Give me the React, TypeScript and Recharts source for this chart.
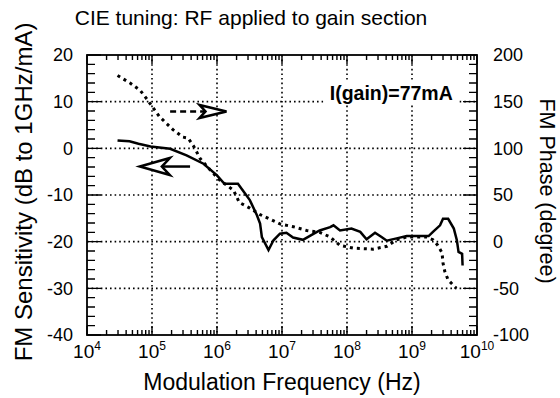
import React from 'react';
import { LineChart, Line, XAxis, YAxis, ReferenceLine, ReferenceDot } from 'recharts';

// ---------- data ----------
const sensFreq = [
  2.95e4, 4.5e4, 6.2e4, 9.5e4, 1.9e5, 3.4e5, 6.2e5, 1.0e6, 1.3e6, 2.1e6, 2.7e6, 3.2e6,
  4.1e6, 4.6e6, 4.9e6, 6.2e6, 7.4e6, 9.3e6, 1.17e7, 1.48e7, 2.1e7, 3.0e7, 3.8e7, 5.5e7,
  6.2e7, 7.8e7, 1.17e8, 1.6e8, 2.0e8, 2.7e8, 3.4e8, 4.1e8, 5.8e8, 8.3e8, 1.8e9, 2.1e9,
  2.7e9, 3.0e9, 3.6e9, 4.4e9, 4.9e9, 5.2e9, 5.9e9, 6.0e9,
];
const sensDb = [
  1.7, 1.5, 1.0, 0.4, -0.1, -1.5, -3.3, -5.8, -7.6, -7.6, -9.7, -11.1,
  -14.3, -16.1, -19.0, -21.8, -19.7, -18.3, -18.1, -19.1, -19.6, -18.4, -17.6, -16.9,
  -16.5, -17.6, -17.2, -17.9, -19.5, -18.1, -19.0, -19.8, -19.3, -18.8, -18.8, -17.9,
  -16.5, -15.1, -15.1, -17.2, -19.7, -22.2, -22.6, -25.1,
];

const phaseFreq = [
  2.95e4, 4.6e4, 6.6e4, 8.5e4, 1.0e5, 1.3e5, 2.1e5, 3.0e5, 3.6e5, 4.4e5, 5.5e5, 7.8e5,
  1.1e6, 1.8e6, 2.2e6, 3.2e6, 4.6e6, 6.6e6, 9.3e6, 1.5e7, 2.4e7, 3.8e7, 5.5e7, 7.8e7,
  1.26e8, 2.5e8, 4.1e8, 5.8e8, 8.3e8, 1.66e9, 2.1e9, 2.5e9, 2.9e9, 3.0e9, 3.2e9, 3.6e9,
  4.8e9,
];
const phaseDeg = [
  178, 170, 162, 152, 145, 134, 120, 112, 111, 102, 89, 77,
  66, 55, 42, 36, 29, 24, 19, 16, 12, 10, 5, -4,
  -7, -8, -5, 2, 5, 5, 2, -4, -12, -23, -32, -41,
  -50,
];

const X_MIN = 1e4;
const X_MAX = 1e10;
const S_MIN = -40;
const S_MAX = 20;
const P_MIN = -100;
const P_MAX = 200;

const decadeTicks = [1e4, 1e5, 1e6, 1e7, 1e8, 1e9, 1e10];
const sensTicks = [-40, -30, -20, -10, 0, 10, 20];
const phaseTicks = [-100, -50, 0, 50, 100, 150, 200];
const gridDecades = [1e5, 1e6, 1e7, 1e8, 1e9];
const gridSens = [-30, -20, -10, 0, 10];

const titleText = 'CIE tuning: RF applied to gain section';
const xLabel = 'Modulation Frequency (Hz)';
const yLeftLabel = 'FM Sensitivity (dB to 1GHz/mA)';
const yRightLabel = 'FM Phase (degree)';
const noteText = 'I(gain)=77mA';

// arrow annotations (data coordinates)
const phaseArrow = { fromF: 1.9e5, toF: 1.4e6, db: 7.9 };
const sensArrow = { fromF: 3.85e5, toF: 6.5e4, db: -3.9 };
const notePos = { f: 4.8e8, db: 11.6 };

// ---------- layout ----------
const FONT = '"Liberation Sans", Arial, Helvetica, sans-serif';
const W = 560;
const H = 398;
const MARGIN = { top: 55, right: 33, bottom: 33, left: 47 };
const Y_LEFT_W = 40;
const Y_RIGHT_W = 50;
const X_AXIS_H = 30;
const PLOT_L = MARGIN.left + Y_LEFT_W;
const PLOT_T = MARGIN.top;
const PLOT_W = W - MARGIN.left - MARGIN.right - Y_LEFT_W - Y_RIGHT_W;
const PLOT_H = H - MARGIN.top - MARGIN.bottom - X_AXIS_H;
const PLOT_R = PLOT_L + PLOT_W;
const PLOT_B = PLOT_T + PLOT_H;

// same mappings as the chart's log x axis / linear y axes (for frame furniture)
const px = (f: number) =>
  PLOT_L + (Math.log10(f / X_MIN) / Math.log10(X_MAX / X_MIN)) * PLOT_W;
const pyS = (v: number) => PLOT_B - ((v - S_MIN) / (S_MAX - S_MIN)) * PLOT_H;
const pyP = (v: number) => PLOT_B - ((v - P_MIN) / (P_MAX - P_MIN)) * PLOT_H;

// ---------- derived tables ----------
const sensData = sensFreq.map((f, i) => ({ f, v: sensDb[i] }));
const phaseData = phaseFreq.map((f, i) => ({ f, v: phaseDeg[i] }));

const minorX: number[] = [];
for (let e = 4; e < 10; e++) for (let m = 2; m <= 9; m++) minorX.push(m * Math.pow(10, e));
const minorSens: number[] = [];
for (let v = -38; v < 20; v += 2) if (v % 10 !== 0) minorSens.push(v);
const minorPhase: number[] = [];
for (let v = -90; v < 200; v += 10) if (v % 50 !== 0) minorPhase.push(v);

const XTick = (props: any) => {
  const { x, y, payload } = props;
  const exp = Math.round(Math.log10(payload.value));
  return (
    <text x={x} y={y + 15} textAnchor="middle" fontSize={19} fontFamily={FONT} fill="#000">
      10
      <tspan dy={-8} fontSize={12}>
        {exp}
      </tspan>
    </text>
  );
};

const arrowShape = (dashed: boolean) => (props: any) => {
  const { x1, y1, x2, y2 } = props;
  const dir = x2 > x1 ? 1 : -1;
  const len = dashed ? 27 : 30;
  const half = dashed ? 6.5 : 8.5;
  const notch = dashed ? 6 : 8;
  const bx = x2 - dir * len;
  const pts = `${x2},${y2} ${bx},${y2 - half} ${bx + dir * notch},${y2} ${bx},${y2 + half}`;
  return (
    <g>
      <line
        x1={x1}
        y1={y1}
        x2={bx + dir * notch}
        y2={y2}
        stroke="#000"
        strokeWidth={2.5}
        strokeDasharray={dashed ? '6 4' : undefined}
      />
      <polygon points={pts} fill="#fff" stroke="#000" strokeWidth={2.5} strokeLinejoin="miter" />
    </g>
  );
};

const NoteShape = (props: any) => {
  const { cx, cy } = props;
  return (
    <g>
      <rect x={cx - 68} y={cy - 13} width={136} height={23} fill="#fff" />
      <text
        x={cx}
        y={cy + 6}
        textAnchor="middle"
        fontSize={19.5}
        fontWeight="bold"
        fontFamily={FONT}
        fill="#000"
      >
        {noteText}
      </text>
    </g>
  );
};

// grid, ticks and frame drawn as plain SVG in the chart surface
const gridPath =
  gridDecades.map((d) => `M${px(d)},${PLOT_T}V${PLOT_B}`).join('') +
  gridSens.map((v) => `M${PLOT_L},${pyS(v)}H${PLOT_R}`).join('');
const xTickPath = (xs: number[], len: number) =>
  xs.map((f) => `M${px(f)},${PLOT_B}v${-len}M${px(f)},${PLOT_T}v${len}`).join('');
const yTickPath = (ys: number[], map: (v: number) => number, x0: number, len: number) =>
  ys.map((v) => `M${x0},${map(v)}h${len}`).join('');
const tickPath =
  xTickPath(minorX, 5) +
  xTickPath(decadeTicks, 9) +
  yTickPath(minorSens, pyS, PLOT_L, 8) +
  yTickPath(sensTicks, pyS, PLOT_L, 14) +
  yTickPath(minorPhase, pyP, PLOT_R, -8) +
  yTickPath(phaseTicks, pyP, PLOT_R, -14);

export default function App() {
  return (
    <div style={{ position: 'absolute', left: 0, top: 0, width: W, height: H, background: '#fff' }}>
      <LineChart width={W} height={H} margin={MARGIN}>
        <XAxis
          xAxisId="main"
          dataKey="f"
          type="number"
          scale="log"
          domain={[X_MIN, X_MAX]}
          ticks={decadeTicks}
          interval={0}
          allowDataOverflow
          axisLine={false}
          tickLine={false}
          height={X_AXIS_H}
          tick={<XTick />}
        />
        <YAxis
          yAxisId="left"
          type="number"
          domain={[S_MIN, S_MAX]}
          ticks={sensTicks}
          interval={0}
          allowDataOverflow
          width={Y_LEFT_W}
          axisLine={false}
          tickLine={false}
          tickSize={6}
          tickMargin={8}
          tick={{ fontSize: 18, fontFamily: FONT, fill: '#000' }}
        />
        <YAxis
          yAxisId="right"
          orientation="right"
          type="number"
          domain={[P_MIN, P_MAX]}
          ticks={phaseTicks}
          interval={0}
          allowDataOverflow
          width={Y_RIGHT_W}
          axisLine={false}
          tickLine={false}
          tickSize={6}
          tickMargin={10}
          tick={{ fontSize: 18, fontFamily: FONT, fill: '#000' }}
        />

        <path d={gridPath} fill="none" stroke="#000" strokeWidth={1.6} strokeDasharray="1.6 3" />
        <path d={tickPath} fill="none" stroke="#000" strokeWidth={1.4} />
        <rect
          x={PLOT_L}
          y={PLOT_T}
          width={PLOT_W}
          height={PLOT_H}
          fill="none"
          stroke="#000"
          strokeWidth={1.8}
        />

        <Line
          xAxisId="main"
          yAxisId="right"
          data={phaseData}
          dataKey="v"
          type="linear"
          stroke="#000"
          strokeWidth={3}
          strokeDasharray="3 4"
          dot={false}
          isAnimationActive={false}
        />
        <Line
          xAxisId="main"
          yAxisId="left"
          data={sensData}
          dataKey="v"
          type="linear"
          stroke="#000"
          strokeWidth={2.5}
          dot={false}
          isAnimationActive={false}
        />

        <ReferenceLine
          xAxisId="main"
          yAxisId="left"
          segment={[
            { x: phaseArrow.fromF, y: phaseArrow.db },
            { x: phaseArrow.toF, y: phaseArrow.db },
          ]}
          shape={arrowShape(true)}
        />
        <ReferenceLine
          xAxisId="main"
          yAxisId="left"
          segment={[
            { x: sensArrow.fromF, y: sensArrow.db },
            { x: sensArrow.toF, y: sensArrow.db },
          ]}
          shape={arrowShape(false)}
        />
        <ReferenceDot
          xAxisId="main"
          yAxisId="left"
          x={notePos.f}
          y={notePos.db}
          r={0}
          shape={<NoteShape />}
        />
        <text x={251} y={25} textAnchor="middle" fontSize={21} fontFamily={FONT} fill="#000">
          {titleText}
        </text>
        <text x={282} y={390} textAnchor="middle" fontSize={23} fontFamily={FONT} fill="#000">
          {xLabel}
        </text>
        <text
          x={32}
          y={192}
          textAnchor="middle"
          fontSize={24}
          fontFamily={FONT}
          fill="#000"
          transform="rotate(-90 32 192)"
        >
          {yLeftLabel}
        </text>
        <text
          x={540}
          y={191}
          textAnchor="middle"
          fontSize={21.5}
          fontFamily={FONT}
          fill="#000"
          transform="rotate(90 540 191)"
        >
          {yRightLabel}
        </text>
      </LineChart>
    </div>
  );
}
